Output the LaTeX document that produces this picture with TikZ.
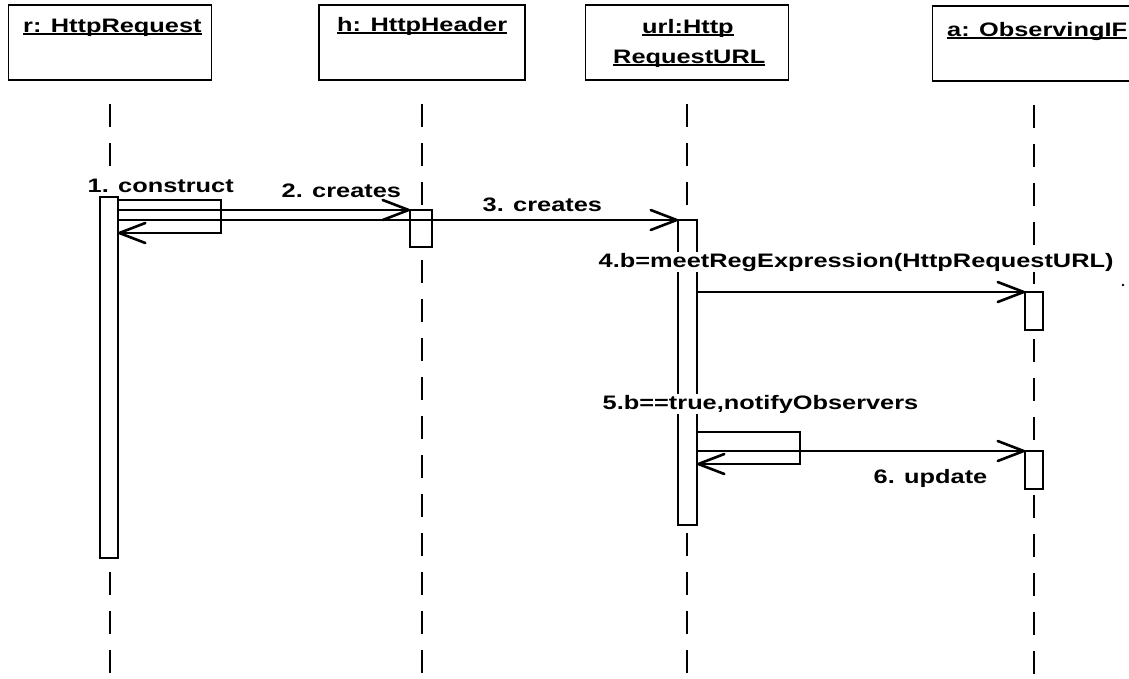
\documentclass[tikz,border=0pt]{standalone}
\usepackage{fontspec}
\newfontfamily\lblfont{Liberation Sans}[FakeStretch=1.3]
\usetikzlibrary{arrows.meta}
\newsavebox\ulinebox
\newcommand\ulword[1]{\sbox\ulinebox{#1}\rlap{\rule[-3pt]{\wd\ulinebox}{1.8pt}}\usebox\ulinebox}

\begin{document}
\begin{tikzpicture}[x=1pt,y=-1pt,
  every node/.style={font={\lblfont\bfseries\fontsize{19.5pt}{23pt}\selectfont}},
  objbox/.style={draw, line width=1.3pt, inner sep=0pt, outer sep=0pt, minimum height=75pt},
  actbar/.style={draw, fill=white, line width=1.4pt, inner sep=0pt, outer sep=0pt, minimum width=18pt},
  lifeline/.style={line width=1.8pt, dash pattern=on 23pt off 16pt, shorten <=24pt},
  tipstyle/.style={-{Straight Barb[length=26pt,width=20pt,line width=2.6pt,round]}},
  msg/.style={line width=1.5pt, tipstyle},
  selfmsg/.style={line width=1.3pt, tipstyle},
  msglabel/.style={fill=white, inner xsep=0.5pt, inner ysep=0.5pt, anchor=base west},
  objtitle/.style={inner sep=0pt, anchor=base west}]

\useasboundingbox (0,0) rectangle (1129,678);
\clip (0,0) rectangle (1129,678);
\fill[white] (0,0) rectangle (1129,678);

% object boxes
\node[objbox, minimum width=203pt] (r)   at (110,42.5)  {};
\node[objbox, minimum width=206pt] (h)   at (422,42.5)  {};
\node[objbox, minimum width=203pt] (url) at (687,42.5)  {};
\node[objbox, minimum width=203pt] (a)   at (1034,43.5) {};

\node[objtitle] (tr)  at (23,32)  {\ulword{r: HttpRequest}};
\node[objtitle] (th)  at (337,31) {\ulword{h: HttpHeader}};
\node[objtitle] (tu1) at (642,33) {\ulword{url:Http}};
\node[objtitle] (tu2) at (613,63) {\ulword{RequestURL}};
\node[objtitle] (ta)  at (947,36) {\ulword{a: ObservingIF}};

% lifelines
\coordinate (r-end)   at (110,678);
\coordinate (h-end)   at (422,678);
\coordinate (url-end) at (687,678);
\coordinate (a-end)   at (1034,678);
\draw[lifeline] (r.south)   -- (r-end);
\draw[lifeline] (h.south)   -- (h-end);
\draw[lifeline] (url.south) -- (url-end);
\draw[lifeline] (a.south)   -- (a-end);

% activation bars
\node[actbar, minimum height=361pt] (b1) at (109,377.5) {};
\node[actbar, minimum width=22pt, minimum height=37pt] (b2) at (421,228.5) {};
\node[actbar, minimum width=19pt, minimum height=305pt] (b3) at (687.5,372.5) {};
\node[actbar, minimum height=38pt] (b4a) at (1034,311) {};
\node[actbar, minimum height=38pt] (b4b) at (1034,470) {};

% messages
\coordinate (c1a) at (221,200);
\coordinate (c1b) at (221,233);
\draw[selfmsg] (b1.east |- c1a) -- (c1a) -- (c1b) -- (b1.east |- c1b);
\draw[msg] (b1.east |- b2.north) -- (b2.north west);
\draw[msg] (b1.east |- b3.north) -- (b3.north west);
\draw[msg] (b3.east |- b4a.north) -- (b4a.north west);
\coordinate (c5a) at (800,432);
\coordinate (c5b) at (800,464);
\draw[selfmsg] (b3.east |- c5a) -- (c5a) -- (c5b) -- (b3.east |- c5b);
\draw[msg] (b3.east |- b4b.north) -- (b4b.north west);

% message labels
\node[msglabel, inner ysep=4pt] (m1) at (87,192)  {1. construct};
\node[msglabel] (m2) at (281,197) {2. creates};
\node[msglabel] (m3) at (482,211) {3. creates};
\node[msglabel] (m4) at (598,267) {4.b=meetRegExpression(HttpRequestURL)};
\node[msglabel] (m5) at (602,409) {5.b==true,notifyObservers};
\node[msglabel] (m6) at (873,483) {6. update};

% small speck beside message 4
\fill (1123,285) circle (1.3pt);
\end{tikzpicture}
\end{document}
